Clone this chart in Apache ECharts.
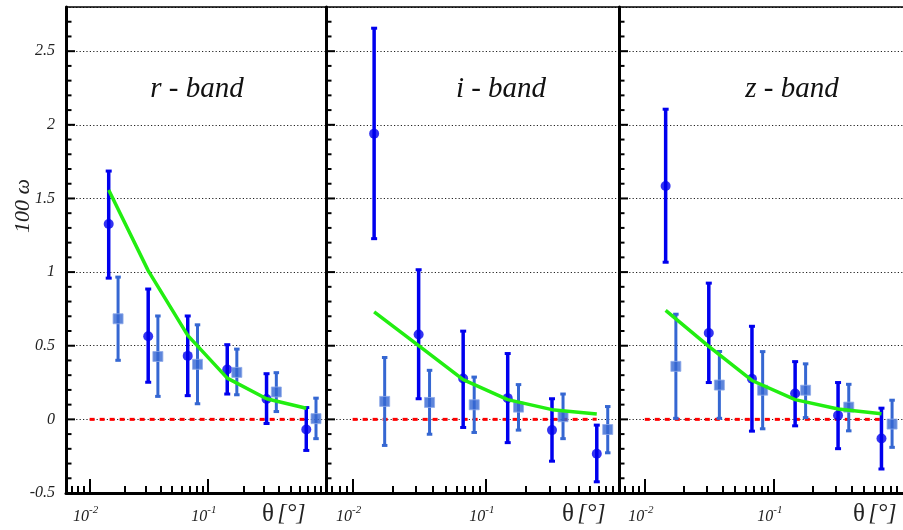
<!DOCTYPE html>
<html>
<head>
<meta charset="utf-8">
<script src="https://cdn.jsdelivr.net/npm/echarts@6/dist/echarts.min.js"></script>
<style>html,body{margin:0;padding:0;background:#fff}#c{width:903px;height:530px}</style>
</head>
<body>
<div id="c"></div>
<script>
// ---- data ----
const thetaCircle = [0.0145, 0.0313, 0.0676, 0.146, 0.314, 0.681];
const thetaSquare = [0.0174, 0.0378, 0.0818, 0.176, 0.380, 0.823];

const rCircle   = [1.326, 0.564, 0.431, 0.339, 0.138, -0.069];
const rCircleLo = [0.959, 0.252, 0.161, 0.172, -0.028, -0.211];
const rCircleHi = [1.686, 0.885, 0.702, 0.507, 0.310, 0.080];
const rSquare   = [0.683, 0.427, 0.374, 0.319, 0.186, 0.005];
const rSquareLo = [0.401, 0.156, 0.106, 0.167, 0.053, -0.131];
const rSquareHi = [0.966, 0.702, 0.642, 0.477, 0.317, 0.144];
const rModel    = [1.557, 1.010, 0.570, 0.280, 0.140, 0.075];

const iCircle   = [1.940, 0.576, 0.278, 0.144, -0.073, -0.234];
const iCircleLo = [1.227, 0.140, -0.055, -0.158, -0.284, -0.424];
const iCircleHi = [2.656, 1.016, 0.599, 0.447, 0.140, -0.039];
const iSquare   = [0.122, 0.115, 0.099, 0.083, 0.018, -0.069];
const iSquareLo = [-0.177, -0.101, -0.089, -0.073, -0.131, -0.227];
const iSquareHi = [0.420, 0.333, 0.287, 0.236, 0.172, 0.087];
const iModel    = [0.730, 0.500, 0.270, 0.134, 0.066, 0.037];

const zCircle   = [1.585, 0.586, 0.276, 0.176, 0.027, -0.130];
const zCircleLo = [1.067, 0.250, -0.080, -0.044, -0.199, -0.337];
const zCircleHi = [2.106, 0.925, 0.632, 0.392, 0.250, 0.076];
const zSquare   = [0.360, 0.233, 0.198, 0.198, 0.083, -0.032];
const zSquareLo = [0.007, 0.007, -0.064, 0.012, -0.078, -0.190];
const zSquareHi = [0.714, 0.461, 0.460, 0.377, 0.238, 0.130];
const zModel    = [0.740, 0.495, 0.264, 0.134, 0.070, 0.038];

const zeroLineX = [0.01, 0.68];
const zeroLineY = [0, 0];

const bandTitles = ['r - band', 'i - band', 'z - band'];
const yTickLabels = ['-0.5', '0', '0.5', '1', '1.5', '2', '2.5'];
const yMajorTicks = [0, 0.5, 1, 1.5, 2, 2.5];
const yMinorTicks = [-0.4, -0.3, -0.2, -0.1, 0.1, 0.2, 0.3, 0.4, 0.6, 0.7, 0.8, 0.9,
                     1.1, 1.2, 1.3, 1.4, 1.6, 1.7, 1.8, 1.9, 2.1, 2.2, 2.3, 2.4, 2.6, 2.7];
const xMajorValues = [0.01, 0.1];
const xMajorExp = ['-2', '-1'];
const xMinorValues = [0.007, 0.008, 0.009, 0.02, 0.03, 0.04, 0.05, 0.06, 0.07, 0.08, 0.09,
                      0.2, 0.3, 0.4, 0.5, 0.6, 0.7, 0.8, 0.9];
const xAxisName = 'θ';
const xAxisUnit = '[°]';
const yAxisName = '100 ω';

const panels = [
  {c: rCircle, cl: rCircleLo, ch: rCircleHi, s: rSquare, sl: rSquareLo, sh: rSquareHi, m: rModel},
  {c: iCircle, cl: iCircleLo, ch: iCircleHi, s: iSquare, sl: iSquareLo, sh: iSquareHi, m: iModel},
  {c: zCircle, cl: zCircleLo, ch: zCircleHi, s: zSquare, sl: zSquareLo, sh: zSquareHi, m: zModel}
];

// ---- layout / style ----
const L = Math.log10;
const XMIN = -2.2, XMAX = 0;
const YMIN = -0.5, YMAX = 2.8;
const gridBoxes = [
  {left: 66, top: 7, width: 260, height: 486},
  {left: 326, top: 7, width: 293, height: 486},
  {left: 619, top: 7, width: 294, height: 486}
];
const serif = 'Liberation Serif';
const CIRC = '#0000ee', SQ = '#3567d2', GREEN = '#22ee11', RED = '#ff0000';

const xAxes = [], yAxes = [], series = [];

function errRender(color, barW, capW) {
  return function (params, api) {
    const x = api.value(0), lo = api.value(1), hi = api.value(2);
    const p1 = api.coord([x, hi]);
    const p2 = api.coord([x, lo]);
    return {
      type: 'group',
      children: [
        {type: 'rect', shape: {x: p1[0] - barW / 2, y: p1[1], width: barW, height: p2[1] - p1[1]}, style: {fill: color}},
        {type: 'rect', shape: {x: p1[0] - capW / 2, y: p1[1] - 1.5, width: capW, height: 3}, style: {fill: color}},
        {type: 'rect', shape: {x: p2[0] - capW / 2, y: p2[1] - 1.5, width: capW, height: 3}, style: {fill: color}}
      ]
    };
  };
}
function tickRender(len) {
  return function (params, api) {
    const p = api.coord([XMIN, api.value(0)]);
    return {
      type: 'line',
      shape: {x1: p[0], y1: p[1], x2: p[0] + len, y2: p[1]},
      style: {stroke: '#000', lineWidth: 2}
    };
  };
}

gridBoxes.forEach((g, gi) => {
  // major bottom x axis
  xAxes.push({
    gridIndex: gi, type: 'value', position: 'bottom', min: XMIN, max: XMAX,
    axisLine: {show: true, onZero: false, lineStyle: {color: '#000', width: 3}},
    axisTick: {show: true, inside: true, length: 14, customValues: xMajorValues.map(L), lineStyle: {color: '#000', width: 2}},
    axisLabel: {
      show: true, customValues: xMajorValues.map(L), margin: 12, padding: [0, 8, 0, 0],
      formatter: function (v) {
        const k = xMajorValues.findIndex(t => Math.abs(L(t) - v) < 1e-6);
        return k < 0 ? '' : '{b|10}{s|' + xMajorExp[k] + '}';
      },
      rich: {
        b: {fontFamily: serif, fontStyle: 'italic', fontSize: 16, color: '#222', lineHeight: 20, verticalAlign: 'bottom'},
        s: {fontFamily: serif, fontStyle: 'italic', fontSize: 11, color: '#222', lineHeight: 20, verticalAlign: 'top'}
      }
    },
    splitLine: {show: false}
  });
  // minor bottom x axis
  xAxes.push({
    gridIndex: gi, type: 'value', position: 'bottom', min: XMIN, max: XMAX,
    axisLine: {show: false, onZero: false},
    axisTick: {show: true, inside: true, length: 7, customValues: xMinorValues.map(L), lineStyle: {color: '#000', width: 2}},
    axisLabel: {show: false}, splitLine: {show: false}
  });
  // top frame
  xAxes.push({
    gridIndex: gi, type: 'value', position: 'top', min: XMIN, max: XMAX,
    axisLine: {show: true, onZero: false, lineStyle: {color: '#000', width: 1.5}},
    axisTick: {show: false}, axisLabel: {show: false}, splitLine: {show: false}
  });
  // y axis
  yAxes.push({
    gridIndex: gi, type: 'value', position: 'left', min: YMIN, max: YMAX, interval: 0.5,
    axisLine: {show: true, onZero: false, lineStyle: {color: '#000', width: 3}},
    axisTick: {show: false},
    axisLabel: {
      show: gi === 0, margin: 11, showMaxLabel: false,
      fontFamily: serif, fontStyle: 'italic', fontSize: 16, color: '#222',
      formatter: v => (yTickLabels.indexOf(String(+v.toFixed(2))) >= 0 ? String(+v.toFixed(2)) : '')
    },
    splitLine: {show: true, lineStyle: {color: '#222', width: 1.2, type: [1.2, 2.2]}}
  });

  const p = panels[gi];
  const xi = gi * 3, yi = gi;
  // inward y ticks on the panel's left frame
  series.push({
    type: 'custom', xAxisIndex: xi, yAxisIndex: yi, z: 6, silent: true, clip: false,
    renderItem: tickRender(9), encode: {y: 0},
    data: yMajorTicks.map(v => [v])
  });
  series.push({
    type: 'custom', xAxisIndex: xi, yAxisIndex: yi, z: 6, silent: true, clip: false,
    renderItem: tickRender(5.5), encode: {y: 0},
    data: yMinorTicks.map(v => [v])
  });
  series.push({
    type: 'line', xAxisIndex: xi, yAxisIndex: yi, symbol: 'none', silent: true, z: 2,
    data: zeroLineX.map((x, k) => [L(x), zeroLineY[k]]),
    lineStyle: {color: RED, width: 3, type: [5, 5]}
  });
  series.push({
    type: 'custom', xAxisIndex: xi, yAxisIndex: yi, z: 3, silent: true,
    renderItem: errRender(CIRC, 3.5, 6),
    encode: {x: 0, y: [1, 2]},
    data: thetaCircle.map((t, k) => [L(t), p.cl[k], p.ch[k]])
  });
  series.push({
    type: 'custom', xAxisIndex: xi, yAxisIndex: yi, z: 3, silent: true,
    renderItem: errRender(SQ, 3, 5.5),
    encode: {x: 0, y: [1, 2]},
    data: thetaSquare.map((t, k) => [L(t), p.sl[k], p.sh[k]])
  });
  series.push({
    type: 'scatter', xAxisIndex: xi, yAxisIndex: yi, z: 4, silent: true,
    symbol: 'circle', symbolSize: 10, itemStyle: {color: CIRC},
    data: thetaCircle.map((t, k) => [L(t), p.c[k]])
  });
  series.push({
    type: 'scatter', xAxisIndex: xi, yAxisIndex: yi, z: 4, silent: true,
    symbol: 'rect', symbolSize: 10, itemStyle: {color: SQ, borderColor: '#8eaaea', borderWidth: 1},
    data: thetaSquare.map((t, k) => [L(t), p.s[k]])
  });
  series.push({
    type: 'line', xAxisIndex: xi, yAxisIndex: yi, symbol: 'none', silent: true, z: 5,
    data: thetaCircle.map((t, k) => [L(t), p.m[k]]),
    lineStyle: {color: GREEN, width: 3.5}
  });
});

const graphics = [];
const titleX = [197, 501, 792];
bandTitles.forEach((t, k) => {
  graphics.push({
    type: 'text', x: titleX[k], y: 89,
    style: {text: t, font: 'italic 29px "Liberation Serif"', fill: '#111', align: 'center', verticalAlign: 'middle'},
    silent: true
  });
});
const nameX = [262, 562, 853];
nameX.forEach(x => {
  graphics.push({
    type: 'text', x: x, y: 514,
    style: {
      text: '{a|' + xAxisName + '} {b|' + xAxisUnit + '}',
      align: 'left', verticalAlign: 'middle',
      rich: {
        a: {fontFamily: serif, fontSize: 25, fill: '#222'},
        b: {fontFamily: serif, fontSize: 24, fontStyle: 'italic', fill: '#222'}
      }
    },
    silent: true
  });
});
graphics.push({
  type: 'text', x: 12, y: 233, rotation: Math.PI / 2,
  style: {text: yAxisName, font: 'italic 22px "Liberation Serif"', fill: '#222'},
  silent: true
});

const chart = echarts.init(document.getElementById('c'), null, {renderer: 'canvas'});
chart.setOption({
  backgroundColor: '#fff',
  animation: false,
  grid: gridBoxes.map(g => Object.assign({containLabel: false}, g)),
  xAxis: xAxes,
  yAxis: yAxes,
  series: series,
  graphic: graphics
});
</script>
</body>
</html>
